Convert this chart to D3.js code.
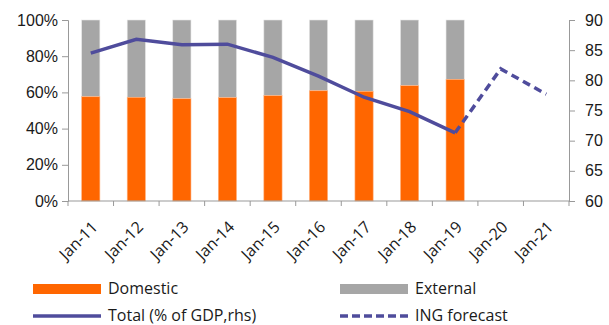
<!DOCTYPE html>
<html>
<head>
<meta charset="utf-8">
<script src="https://cdn.jsdelivr.net/npm/d3@7"></script>
<style>
  body { margin: 0; background: #fff; }
  svg { display: block; font-family: "Open Sans", sans-serif; }
  .axis path, .axis line { stroke: #999; }
  .axis text { fill: #1a1a1a; font-size: 16px; }
  .legend text { fill: #1a1a1a; font-size: 16px; }
</style>
</head>
<body>
<div class="chart"></div>
<script>
'use strict';

// data
const categories = ["Jan-11", "Jan-12", "Jan-13", "Jan-14", "Jan-15", "Jan-16",
                    "Jan-17", "Jan-18", "Jan-19", "Jan-20", "Jan-21"];
const domestic = [57.6, 57.3, 56.5, 57.1, 58.2, 60.9, 60.6, 63.7, 67.2]; // % of debt
const totalYears = ["Jan-11", "Jan-12", "Jan-13", "Jan-14", "Jan-15", "Jan-16", "Jan-17", "Jan-18", "Jan-19"];
const total = [84.5, 86.8, 85.9, 86.0, 83.8, 80.7, 77.2, 74.8, 71.3]; // % of GDP (rhs)
const forecastYears = ["Jan-19", "Jan-20", "Jan-21"];
const forecast = [71.3, 81.9, 77.7];
const leftTicks = [0, 0.2, 0.4, 0.6, 0.8, 1];
const rightTicks = [60, 65, 70, 75, 80, 85, 90];

const W = 609, H = 325;
const margin = {top: 20, left: 68, right: 40, bottom: 124};
const w = W - margin.left - margin.right;
const h = H - margin.top - margin.bottom;

const orange = "#ff6600", grey = "#a6a6a6", navy = "#4f4c9c";

const svg = d3.select(".chart")
  .append("svg")
  .attr("width", W)
  .attr("height", H);

const g = svg.append("g")
  .attr("transform", `translate(${margin.left}, ${margin.top})`);

// scales
const x = d3.scaleBand().domain(categories).range([0, w])
  .paddingInner(0.6).paddingOuter(0.3);
const yL = d3.scaleLinear().domain([0, 1]).range([h, 0]);
const yR = d3.scaleLinear().domain([60, 90]).range([h, 0]);
const step = x.step();
const cx = d => x(d) + x.bandwidth() / 2;

// bars: external (full) behind, domestic on top
const bars = g.selectAll(".bar")
  .data(domestic)
  .enter();
bars.append("rect")
  .attr("x", (d, i) => x(categories[i]))
  .attr("y", yL(1))
  .attr("width", x.bandwidth())
  .attr("height", (d) => yL(d / 100) - yL(1))
  .style("fill", grey)
  .style("stroke", "#e6e6e6")
  .style("stroke-width", 0.6);
bars.append("rect")
  .attr("x", (d, i) => x(categories[i]))
  .attr("y", d => yL(d / 100))
  .attr("width", x.bandwidth())
  .attr("height", d => h - yL(d / 100))
  .style("fill", orange)
  .style("stroke", "#ffb380")
  .style("stroke-width", 0.6);

// left axis
g.append("g")
  .attr("class", "axis")
  .call(d3.axisLeft(yL).tickValues(leftTicks).tickSize(6).tickPadding(4)
    .tickFormat(d3.format(".0%")));

// right axis
g.append("g")
  .attr("class", "axis")
  .attr("transform", `translate(${w}, 0)`)
  .call(d3.axisRight(yR).tickValues(rightTicks).tickSize(6).tickPadding(10));

// x axis, ticks on band boundaries
const xAxis = g.append("g")
  .attr("class", "axis")
  .attr("transform", `translate(0, ${h})`);
xAxis.append("line")
  .attr("x1", 0).attr("x2", w)
  .attr("y1", 0).attr("y2", 0);
xAxis.selectAll(".tk")
  .data(d3.range(categories.length + 1))
  .enter()
  .append("line")
  .attr("x1", i => i * step)
  .attr("x2", i => i * step)
  .attr("y1", 0)
  .attr("y2", 5);
xAxis.selectAll(".lbl")
  .data(categories)
  .enter()
  .append("text")
  .attr("text-anchor", "end")
  .attr("transform", d => `translate(${cx(d) + 4}, 23) rotate(-45)`)
  .attr("dy", "0.35em")
  .text(d => d);

// lines
const line = d3.line()
  .x(d => cx(d[0]))
  .y(d => yR(d[1]));

g.append("path")
  .datum(d3.zip(totalYears, total))
  .attr("d", line)
  .style("fill", "none")
  .style("stroke", navy)
  .style("stroke-width", 3.5);

g.append("path")
  .datum(d3.zip(forecastYears, forecast))
  .attr("d", line)
  .style("fill", "none")
  .style("stroke", navy)
  .style("stroke-width", 3.5)
  .style("stroke-dasharray", "8,5");

// legend
const legendItems = [
  {label: "Domestic", type: "rect", color: orange, x: 33, y: 289},
  {label: "External", type: "rect", color: grey, x: 340, y: 289},
  {label: "Total (% of GDP,rhs)", type: "line", color: navy, x: 33, y: 316},
  {label: "ING forecast", type: "dash", color: navy, x: 340, y: 316}
];
const legend = svg.append("g").attr("class", "legend")
  .selectAll("g")
  .data(legendItems)
  .enter()
  .append("g")
  .attr("transform", d => `translate(${d.x}, ${d.y})`);
legend.filter(d => d.type === "rect")
  .append("rect")
  .attr("x", 0).attr("y", -5)
  .attr("width", 68).attr("height", 10)
  .style("fill", d => d.color);
legend.filter(d => d.type !== "rect")
  .append("line")
  .attr("x1", 0).attr("x2", 68)
  .attr("y1", 0).attr("y2", 0)
  .style("stroke", d => d.color)
  .style("stroke-width", 3.5)
  .style("stroke-dasharray", d => d.type === "dash" ? "8,4" : null);
legend.append("text")
  .attr("x", 75)
  .attr("dy", "0.33em")
  .text(d => d.label);
</script>
</body>
</html>
